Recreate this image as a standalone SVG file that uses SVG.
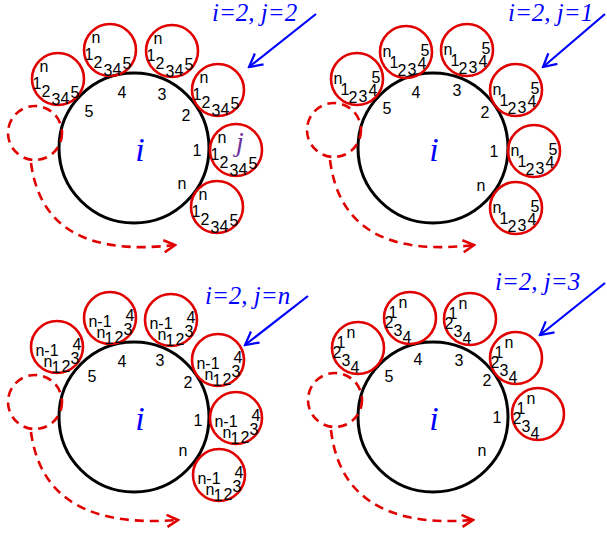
<svg xmlns="http://www.w3.org/2000/svg" width="607" height="533" viewBox="0 0 607 533">
<defs>
<style>
.big{fill:none;stroke:#000;stroke-width:3}
.sm{fill:none;stroke:#e00000;stroke-width:2.6}
.dash{fill:none;stroke:#e00000;stroke-width:2.6;stroke-dasharray:9 6}
.t{font-family:"Liberation Sans",Arial,sans-serif;font-size:16px;fill:#000;text-anchor:middle}
.lb{font-family:"Liberation Sans",Arial,sans-serif;font-size:16px;fill:#000;text-anchor:middle}
.ci{font-family:"Liberation Serif","Times New Roman",serif;font-style:italic;font-size:34px;fill:#0000ff;text-anchor:middle}
.hd{font-family:"Liberation Serif","Times New Roman",serif;font-style:italic;font-size:25px;fill:#0000ff}
.jj{font-family:"Liberation Serif","Times New Roman",serif;font-style:italic;font-size:28px;fill:#7030a0;text-anchor:middle}
.ba{fill:none;stroke:#0000ff;stroke-width:2.2;marker-end:url(#bh)}
.ra{fill:none;stroke:#e00000;stroke-width:2.6;stroke-dasharray:9 6;marker-end:url(#rh)}
</style>
<marker id="bh" viewBox="0 0 16 16" refX="14" refY="8" markerWidth="16" markerHeight="16" markerUnits="userSpaceOnUse" orient="auto">
<path d="M1,1 L14,8 L1,15" fill="none" stroke="#0000ff" stroke-width="2.2"/>
</marker>
<marker id="rh" viewBox="0 0 14 14" refX="12" refY="7" markerWidth="14" markerHeight="14" markerUnits="userSpaceOnUse" orient="auto">
<path d="M1,1 L12,7 L1,13" fill="none" stroke="#e00000" stroke-width="2.6"/>
</marker>
</defs>
<rect width="607" height="533" fill="#fff"/>

<!-- Panel 1 -->
<g id="panel1">
<g id="p1-big">
<circle class="big" cx="134" cy="148" r="75"/>
<text class="ci" x="140" y="161">i</text>
<text class="lb" x="89" y="117">5</text>
<text class="lb" x="122" y="98">4</text>
<text class="lb" x="162" y="100">3</text>
<text class="lb" x="186" y="121">2</text>
<text class="lb" x="197" y="156">1</text>
<text class="lb" x="182" y="189">n</text>
</g>
<g id="p1-s5" transform="translate(58,79)"><circle class="sm" r="26"/>
<text class="t" x="-14" y="-7">n</text><text class="t" x="-21" y="10">1</text><text class="t" x="-12" y="18">2</text><text class="t" x="-2" y="26">3</text><text class="t" x="7" y="25">4</text><text class="t" x="17" y="19">5</text></g>
<g id="p1-s4" transform="translate(110,50)"><circle class="sm" r="26"/>
<text class="t" x="-14" y="-7">n</text><text class="t" x="-21" y="10">1</text><text class="t" x="-12" y="18">2</text><text class="t" x="-2" y="26">3</text><text class="t" x="7" y="25">4</text><text class="t" x="17" y="19">5</text></g>
<g id="p1-s3" transform="translate(172,51)"><circle class="sm" r="26"/>
<text class="t" x="-14" y="-7">n</text><text class="t" x="-21" y="10">1</text><text class="t" x="-12" y="18">2</text><text class="t" x="-2" y="26">3</text><text class="t" x="7" y="25">4</text><text class="t" x="17" y="19">5</text></g>
<g id="p1-s2" transform="translate(218,90)"><circle class="sm" r="26"/>
<text class="t" x="-14" y="-7">n</text><text class="t" x="-21" y="10">1</text><text class="t" x="-12" y="18">2</text><text class="t" x="-2" y="26">3</text><text class="t" x="7" y="25">4</text><text class="t" x="17" y="19">5</text></g>
<g id="p1-s1" transform="translate(236,150)"><circle class="sm" r="26"/>
<text class="jj" x="4" y="1">j</text>
<text class="t" x="-14" y="-7">n</text><text class="t" x="-21" y="10">1</text><text class="t" x="-12" y="18">2</text><text class="t" x="-2" y="26">3</text><text class="t" x="7" y="25">4</text><text class="t" x="17" y="19">5</text></g>
<g id="p1-sn" transform="translate(217,207)"><circle class="sm" r="26"/>
<text class="t" x="-14" y="-7">n</text><text class="t" x="-21" y="10">1</text><text class="t" x="-12" y="18">2</text><text class="t" x="-2" y="26">3</text><text class="t" x="7" y="25">4</text><text class="t" x="17" y="19">5</text></g>
<g id="p1-dashed"><circle class="dash" cx="35" cy="133" r="27"/></g>
<g id="p1-label"><text class="hd" x="212" y="21">i=2, j=2</text></g>
<g id="p1-connectors">
<path class="ra" d="M31,163 C40,230 90,255 175,245"/>
<path class="ba" d="M316,14 L249,67"/>
</g>
</g>

<!-- Panel 2 -->
<g id="panel2" transform="translate(299,0)">
<g id="p2-big">
<circle class="big" cx="134" cy="148" r="75"/>
<text class="ci" x="135" y="161">i</text>
<text class="lb" x="88" y="114">5</text>
<text class="lb" x="117" y="98">4</text>
<text class="lb" x="158" y="96">3</text>
<text class="lb" x="186" y="118">2</text>
<text class="lb" x="195" y="157">1</text>
<text class="lb" x="182" y="191">n</text>
</g>
<g id="p2-s5" transform="translate(58,79)"><circle class="sm" r="26"/>
<text class="t" x="-19" y="5">n</text><text class="t" x="-12" y="16">1</text><text class="t" x="-4" y="24">2</text><text class="t" x="6" y="23">3</text><text class="t" x="16" y="17">4</text><text class="t" x="19" y="4">5</text></g>
<g id="p2-s4" transform="translate(107,52)"><circle class="sm" r="26"/>
<text class="t" x="-19" y="5">n</text><text class="t" x="-12" y="16">1</text><text class="t" x="-4" y="24">2</text><text class="t" x="6" y="23">3</text><text class="t" x="16" y="17">4</text><text class="t" x="19" y="4">5</text></g>
<g id="p2-s3" transform="translate(168,50)"><circle class="sm" r="26"/>
<text class="t" x="-19" y="5">n</text><text class="t" x="-12" y="16">1</text><text class="t" x="-4" y="24">2</text><text class="t" x="6" y="23">3</text><text class="t" x="16" y="17">4</text><text class="t" x="19" y="4">5</text></g>
<g id="p2-s2" transform="translate(217,90)"><circle class="sm" r="26"/>
<text class="t" x="-19" y="5">n</text><text class="t" x="-12" y="16">1</text><text class="t" x="-4" y="24">2</text><text class="t" x="6" y="23">3</text><text class="t" x="16" y="17">4</text><text class="t" x="19" y="4">5</text></g>
<g id="p2-s1" transform="translate(235,151)"><circle class="sm" r="26"/>
<text class="t" x="-19" y="5">n</text><text class="t" x="-12" y="16">1</text><text class="t" x="-4" y="24">2</text><text class="t" x="6" y="23">3</text><text class="t" x="16" y="17">4</text><text class="t" x="19" y="4">5</text></g>
<g id="p2-sn" transform="translate(217,208)"><circle class="sm" r="26"/>
<text class="t" x="-19" y="5">n</text><text class="t" x="-12" y="16">1</text><text class="t" x="-4" y="24">2</text><text class="t" x="6" y="23">3</text><text class="t" x="16" y="17">4</text><text class="t" x="19" y="4">5</text></g>
<g id="p2-dashed"><circle class="dash" cx="35" cy="130" r="27"/></g>
<g id="p2-label"><text class="hd" x="209" y="21">i=2, j=1</text></g>
<g id="p2-connectors">
<path class="ra" d="M31,160 C40,230 90,255 175,245"/>
<path class="ba" d="M306,14 L244,67"/>
</g>
</g>

<!-- Panel 3 -->
<g id="panel3" transform="translate(0,269)">
<g id="p3-big">
<circle class="big" cx="134" cy="148" r="75"/>
<text class="ci" x="140" y="161">i</text>
<text class="lb" x="92" y="113">5</text>
<text class="lb" x="122" y="98">4</text>
<text class="lb" x="160" y="97">3</text>
<text class="lb" x="188" y="119">2</text>
<text class="lb" x="198" y="157">1</text>
<text class="lb" x="183" y="187">n</text>
</g>
<g id="p3-s5" transform="translate(57,78)"><circle class="sm" r="26"/>
<text class="t" x="-10" y="9">n-1</text><text class="t" x="20" y="3">4</text><text class="t" x="18" y="17">3</text><text class="t" x="-9" y="20">n</text><text class="t" x="-1" y="26">1</text><text class="t" x="9" y="25">2</text></g>
<g id="p3-s4" transform="translate(110,49)"><circle class="sm" r="26"/>
<text class="t" x="-10" y="9">n-1</text><text class="t" x="20" y="3">4</text><text class="t" x="18" y="17">3</text><text class="t" x="-9" y="20">n</text><text class="t" x="-1" y="26">1</text><text class="t" x="9" y="25">2</text></g>
<g id="p3-s3" transform="translate(171,51)"><circle class="sm" r="26"/>
<text class="t" x="-10" y="9">n-1</text><text class="t" x="20" y="3">4</text><text class="t" x="18" y="17">3</text><text class="t" x="-9" y="20">n</text><text class="t" x="-1" y="26">1</text><text class="t" x="9" y="25">2</text></g>
<g id="p3-s2" transform="translate(218,91)"><circle class="sm" r="26"/>
<text class="t" x="-10" y="9">n-1</text><text class="t" x="20" y="3">4</text><text class="t" x="18" y="17">3</text><text class="t" x="-9" y="20">n</text><text class="t" x="-1" y="26">1</text><text class="t" x="9" y="25">2</text></g>
<g id="p3-s1" transform="translate(236,149)"><circle class="sm" r="26"/>
<text class="t" x="-10" y="9">n-1</text><text class="t" x="20" y="3">4</text><text class="t" x="18" y="17">3</text><text class="t" x="-9" y="20">n</text><text class="t" x="-1" y="26">1</text><text class="t" x="9" y="25">2</text></g>
<g id="p3-sn" transform="translate(219,206)"><circle class="sm" r="26"/>
<text class="t" x="-10" y="9">n-1</text><text class="t" x="20" y="3">4</text><text class="t" x="18" y="17">3</text><text class="t" x="-9" y="20">n</text><text class="t" x="-1" y="26">1</text><text class="t" x="9" y="25">2</text></g>
<g id="p3-dashed"><circle class="dash" cx="35" cy="133" r="27"/></g>
<g id="p3-label"><text class="hd" x="205" y="35">i=2, j=n</text></g>
<g id="p3-connectors">
<path class="ra" d="M31,163 C40,230 90,258 178,251"/>
<path class="ba" d="M308,27 L245,76"/>
</g>
</g>

<!-- Panel 4 -->
<g id="panel4" transform="translate(299,269)">
<g id="p4-big">
<circle class="big" cx="134" cy="148" r="75"/>
<text class="ci" x="135" y="161">i</text>
<text class="lb" x="90" y="113">5</text>
<text class="lb" x="119" y="96">4</text>
<text class="lb" x="160" y="97">3</text>
<text class="lb" x="188" y="117">2</text>
<text class="lb" x="198" y="154">1</text>
<text class="lb" x="183" y="187">n</text>
</g>
<g id="p4-s5" transform="translate(59,79)"><circle class="sm" r="26"/>
<text class="t" x="-17" y="0">1</text><text class="t" x="-7" y="-10">n</text><text class="t" x="-21" y="10">2</text><text class="t" x="-12" y="18">3</text><text class="t" x="-3" y="25">4</text></g>
<g id="p4-s4" transform="translate(111,49)"><circle class="sm" r="26"/>
<text class="t" x="-17" y="0">1</text><text class="t" x="-7" y="-10">n</text><text class="t" x="-21" y="10">2</text><text class="t" x="-12" y="18">3</text><text class="t" x="-3" y="25">4</text></g>
<g id="p4-s3" transform="translate(171,50)"><circle class="sm" r="26"/>
<text class="t" x="-17" y="0">1</text><text class="t" x="-7" y="-10">n</text><text class="t" x="-21" y="10">2</text><text class="t" x="-12" y="18">3</text><text class="t" x="-3" y="25">4</text></g>
<g id="p4-s2" transform="translate(217,89)"><circle class="sm" r="26"/>
<text class="t" x="-17" y="0">1</text><text class="t" x="-7" y="-10">n</text><text class="t" x="-21" y="10">2</text><text class="t" x="-12" y="18">3</text><text class="t" x="-3" y="25">4</text></g>
<g id="p4-s1" transform="translate(239,145)"><circle class="sm" r="26"/>
<text class="t" x="-17" y="0">1</text><text class="t" x="-7" y="-10">n</text><text class="t" x="-21" y="10">2</text><text class="t" x="-12" y="18">3</text><text class="t" x="-3" y="25">4</text></g>
<g id="p4-dashed"><circle class="dash" cx="36" cy="131" r="27"/></g>
<g id="p4-label"><text class="hd" x="196" y="21">i=2, j=3</text></g>
<g id="p4-connectors">
<path class="ra" d="M32,161 C40,230 90,258 174,251"/>
<path class="ba" d="M306,14 L241,66"/>
</g>
</g>
</svg>
